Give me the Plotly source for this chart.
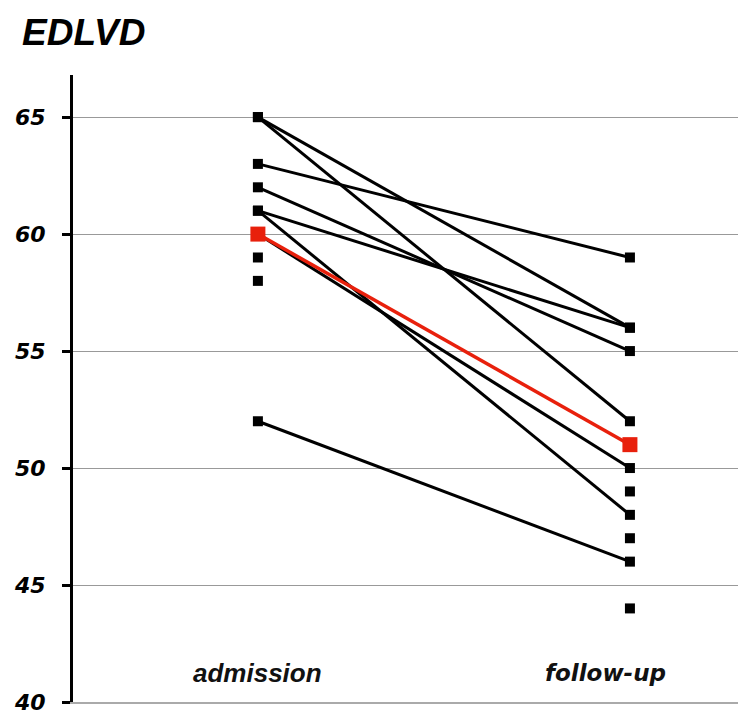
import plotly.graph_objects as go

categories = ["admission", "follow-up"]
pair_admission = [65, 65, 63, 62, 61, 61, 60, 52]
pair_followup = [56, 52, 59, 55, 56, 48, 50, 46]
admission_only = [59, 58]
followup_only = [49, 47, 44]
mean_values = [60, 51]
y_ticks = [40, 45, 50, 55, 60, 65]

fig = go.Figure()
for a, f in zip(pair_admission, pair_followup):
    fig.add_trace(go.Scatter(x=[0, 1], y=[a, f], mode="lines+markers",
                             line=dict(color="black", width=3),
                             marker=dict(symbol="square", size=10, color="black"),
                             showlegend=False, hoverinfo="skip"))
fig.add_trace(go.Scatter(x=[0] * len(admission_only), y=admission_only, mode="markers",
                         marker=dict(symbol="square", size=10, color="black"), showlegend=False))
fig.add_trace(go.Scatter(x=[1] * len(followup_only), y=followup_only, mode="markers",
                         marker=dict(symbol="square", size=10, color="black"), showlegend=False))
fig.add_trace(go.Scatter(x=[0, 1], y=mean_values, mode="lines+markers",
                         line=dict(color="#e8200c", width=3.5),
                         marker=dict(symbol="square", size=15, color="#e8200c"),
                         showlegend=False))

label_fonts = [
    dict(family="Liberation Sans", size=26, color="#111", style="italic", weight="bold"),
    dict(family="DejaVu Sans", size=23, color="#111", style="italic", weight="bold"),
]
label_shift = [0, -24]
for i, c in enumerate(categories):
    fig.add_annotation(x=i, y=41.25, text=c, showarrow=False, xref="x", yref="y",
                       xshift=label_shift[i], font=label_fonts[i])

fig.add_annotation(xref="paper", yref="paper", x=-0.079, y=1.0, xanchor="left",
                   yanchor="middle", yshift=43, text="EDLVD", showarrow=False,
                   font=dict(family="Liberation Sans", size=37, color="black",
                             style="italic", weight="bold"))

fig.update_layout(
    width=738, height=708,
    margin=dict(l=65, r=0, t=67, b=14),
    paper_bgcolor="white", plot_bgcolor="white",
    xaxis=dict(range=[-0.497, 1.312], showgrid=False, zeroline=False, showticklabels=False,
               showline=True, linecolor="#aaaaaa", linewidth=2, fixedrange=True),
    yaxis=dict(range=[40, 66.8], tickvals=y_ticks, ticktext=[str(v) for v in y_ticks],
               showgrid=True, gridcolor="#999999", gridwidth=1, zeroline=False,
               showline=True, linecolor="black", linewidth=3,
               ticks="outside", ticklen=8, tickwidth=3, tickcolor="black",
               ticklabelstandoff=12,
               tickfont=dict(family="DejaVu Sans", size=22, color="black",
                             style="italic", weight="bold")),
)
fig.write_html("out.html")
